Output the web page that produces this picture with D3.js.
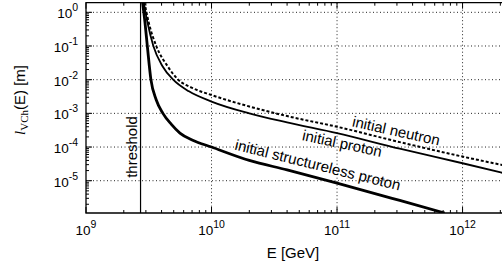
<!DOCTYPE html>
<html>
<head>
<meta charset="utf-8">
<script src="https://cdn.jsdelivr.net/npm/d3@7"></script>
<style>
  body { margin: 0; background: #fff; }
  svg { display: block; font-family: "Liberation Sans", Arial, sans-serif; }
</style>
</head>
<body>
<div class="chart"></div>
<script>
// energies in GeV, lengths in m
const neutronE = [2.92e9, 3.16e9, 3.63e9, 4.47e9, 5.43e9, 7.08e9, 1e10, 2e10, 4e10, 1e11, 3.16e11, 1e12, 2.1e12];
const neutronL = [2.0, 0.5, 0.1, 0.025, 0.01, 5.6e-3, 3.5e-3, 1.6e-3, 8.3e-4, 4.0e-4, 1.4e-4, 5.2e-5, 2.9e-5];

const protonE = [2.88e9, 3.09e9, 3.44e9, 4.07e9, 4.95e9, 6.61e9, 1e10, 2e10, 4e10, 1e11, 3.16e11, 1e12, 2.1e12];
const protonL = [2.0, 0.5, 0.1, 0.025, 0.01, 4.5e-3, 2.24e-3, 1.0e-3, 5.4e-4, 2.6e-4, 8.9e-5, 3.3e-5, 1.7e-5];

const structE = [2.82e9, 2.95e9, 3.08e9, 3.29e9, 3.63e9, 4.1e9, 4.79e9, 5.6e9, 7.08e9, 1e10, 2e10, 4e10, 1e11, 3.16e11, 7.2e11];
const structL = [2.0, 0.5, 0.1, 0.01, 2.5e-3, 1.0e-3, 4.7e-4, 2.6e-4, 1.6e-4, 1.0e-4, 4.0e-5, 2.1e-5, 8.5e-6, 2.6e-6, 1.1e-6];

const thresholdE = 2.72e9;

const xTicks = [1e9, 1e10, 1e11, 1e12];
const xExps = ["9", "10", "11", "12"];
const yTicks = [1, 1e-1, 1e-2, 1e-3, 1e-4, 1e-5];
const yExps = ["0", "-1", "-2", "-3", "-4", "-5"];

const W = 502, H = 266;
const pLeft = 86, pRight = 503, pTop = 2.7, pBottom = 213;

const svg = d3.select(".chart").append("svg")
  .attr("width", W).attr("height", H);

const x = d3.scaleLog().domain([1e9, 2.1e12]).range([pLeft, pRight]);
const y = d3.scaleLog().domain([1.1e-6, 1.93]).range([pBottom, pTop]);

// grid
svg.append("g").selectAll("line")
  .data(yTicks)
  .join("line")
    .attr("x1", pLeft).attr("x2", pRight)
    .attr("y1", d => y(d)).attr("y2", d => y(d))
    .attr("stroke", "#222").attr("stroke-width", 1)
    .attr("stroke-dasharray", "1,2.5");

svg.append("g").selectAll("line")
  .data(xTicks.slice(1))
  .join("line")
    .attr("x1", d => x(d)).attr("x2", d => x(d))
    .attr("y1", pTop).attr("y2", pBottom)
    .attr("stroke", "#222").attr("stroke-width", 1)
    .attr("stroke-dasharray", "1,2.5");

// minor + major ticks
const xMinor = [];
for (let e = 9; e <= 12; e++) for (let m = 1; m <= 9; m++) {
  const v = m * Math.pow(10, e);
  if (v <= 2.1e12) xMinor.push({v: v, major: m == 1});
}
const yMinor = [];
for (let e = -6; e <= 0; e++) for (let m = 1; m <= 9; m++) {
  const v = m * Math.pow(10, e);
  if (v >= 1.1e-6 && v <= 1.93) yMinor.push({v: v, major: m == 1});
}

const ticks = svg.append("g").attr("stroke", "#000").attr("stroke-width", 1);
ticks.selectAll(".xb").data(xMinor).join("line")
  .attr("x1", d => x(d.v)).attr("x2", d => x(d.v))
  .attr("y1", pBottom).attr("y2", d => pBottom - (d.major ? 6 : 3));
ticks.selectAll(".xt").data(xMinor).join("line")
  .attr("x1", d => x(d.v)).attr("x2", d => x(d.v))
  .attr("y1", pTop).attr("y2", d => pTop + (d.major ? 6 : 3));
ticks.selectAll(".yl").data(yMinor).join("line")
  .attr("y1", d => y(d.v)).attr("y2", d => y(d.v))
  .attr("x1", pLeft).attr("x2", d => pLeft + (d.major ? 6 : 3));

// frame
svg.append("path")
  .attr("d", `M${pRight},${pTop}H${pLeft}V${pBottom}H${pRight}`)
  .attr("fill", "none").attr("stroke", "#000").attr("stroke-width", 1.3);

// tick labels
const xl = svg.append("g").selectAll("text")
  .data(xTicks)
  .join("text")
    .attr("x", d => x(d))
    .attr("y", 235)
    .attr("text-anchor", "middle")
    .attr("font-size", 13.5);
xl.append("tspan").text("10");
xl.append("tspan").attr("dy", -7).attr("font-size", 10.5).text((d, i) => xExps[i]);

const yl = svg.append("g").selectAll("text")
  .data(yTicks)
  .join("text")
    .attr("x", 78)
    .attr("y", d => y(d) + 6)
    .attr("text-anchor", "end")
    .attr("font-size", 13.5);
yl.append("tspan").text("10");
yl.append("tspan").attr("dy", -7).attr("font-size", 10.5).text((d, i) => yExps[i]);

// axis titles
svg.append("text")
  .attr("x", 293).attr("y", 258)
  .attr("text-anchor", "middle")
  .attr("font-size", 15)
  .text("E [GeV]");

const ylab = svg.append("text")
  .attr("transform", "translate(25,100) rotate(-90)")
  .attr("text-anchor", "middle")
  .attr("font-size", 15);
ylab.append("tspan").attr("font-family", "Liberation Serif, serif").attr("font-style", "italic").text("l");
ylab.append("tspan").attr("font-family", "Liberation Serif, serif").attr("font-size", 11).attr("dy", 3).text("VCh");
ylab.append("tspan").attr("dy", -3).text("(E) [m]");

// curves
svg.append("clipPath").attr("id", "plotclip")
  .append("rect").attr("x", pLeft).attr("y", pTop)
  .attr("width", pRight - pLeft).attr("height", pBottom - pTop);

const line = d3.line()
  .x(d => x(d[0]))
  .y(d => y(d[1]))
  .curve(d3.curveMonotoneX);

const curves = svg.append("g").attr("clip-path", "url(#plotclip)");

curves.append("line")
  .attr("x1", x(thresholdE)).attr("x2", x(thresholdE))
  .attr("y1", pTop).attr("y2", pBottom)
  .attr("stroke", "#000").attr("stroke-width", 1.2);

curves.append("path")
  .datum(d3.zip(neutronE, neutronL))
  .attr("d", line)
  .attr("fill", "none").attr("stroke", "#000")
  .attr("stroke-width", 2).attr("stroke-dasharray", "3,2");

curves.append("path")
  .datum(d3.zip(protonE, protonL))
  .attr("d", line)
  .attr("fill", "none").attr("stroke", "#000")
  .attr("stroke-width", 1.8);

curves.append("path")
  .datum(d3.zip(structE, structL))
  .attr("d", line)
  .attr("fill", "none").attr("stroke", "#000")
  .attr("stroke-width", 2.8);

// labels
svg.append("text")
  .attr("transform", "translate(137,147) rotate(-90)")
  .attr("text-anchor", "middle")
  .attr("font-size", 15)
  .text("threshold");

const curveLabels = [
  {text: "initial neutron", cx: 395, cy: 136, angle: 12.5},
  {text: "initial proton", cx: 341, cy: 148.5, angle: 12},
  {text: "initial structureless proton", cx: 316.5, cy: 170, angle: 14}
];

svg.append("g").selectAll("text")
  .data(curveLabels)
  .join("text")
    .attr("transform", d => `translate(${d.cx},${d.cy}) rotate(${d.angle})`)
    .attr("text-anchor", "middle")
    .attr("font-size", 15)
    .text(d => d.text);
</script>
</body>
</html>
